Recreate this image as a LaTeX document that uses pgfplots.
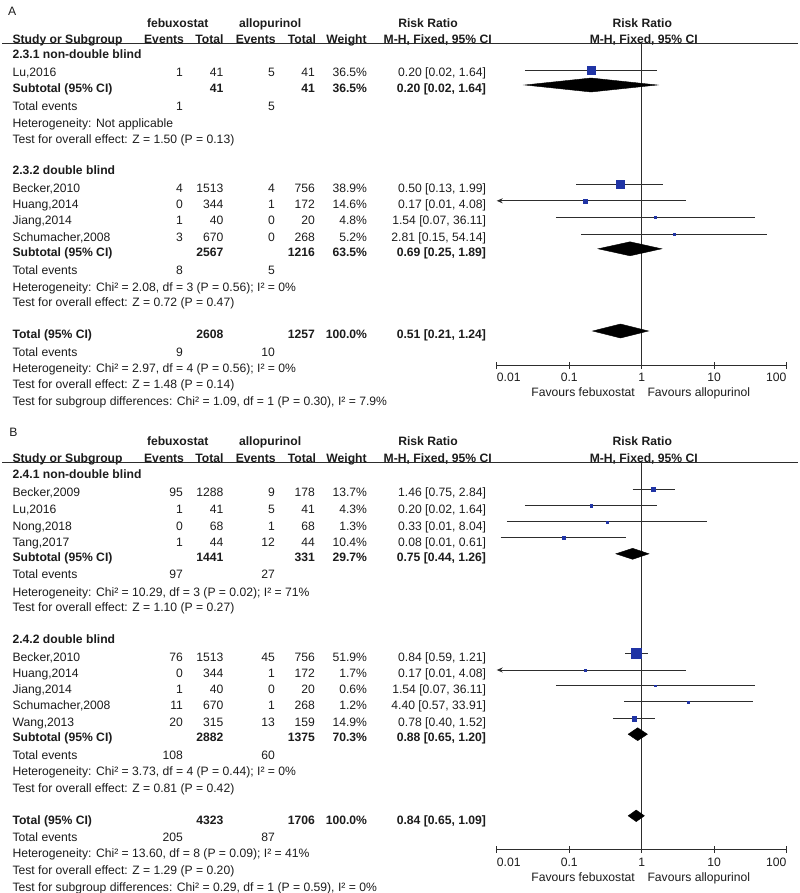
\documentclass[border=0pt]{standalone}
\usepackage{pgfplots}
\pgfplotsset{compat=1.18}
\usepackage{pgfplotstable}
\usetikzlibrary{arrows.meta}
\usepackage{fontspec}
\setmainfont{Liberation Sans}
\definecolor{txtcol}{RGB}{28,28,28}
\definecolor{linecol}{RGB}{45,45,45}
\definecolor{sqblue}{RGB}{32,52,165}

\newcommand\Lt[3]{\node[anchor=base west] at (#1,#2+4.4) {#3};}
\newcommand\Rt[3]{\node[anchor=base east] at (#1,#2+4.4) {#3};}
\newcommand\Ct[3]{\node[anchor=base] at (#1,#2+4.4) {#3};}
% y, name, e1, t1, e2, t2, weight, rr
\newcommand\Study[8]{\Lt{12.5}{#1}{#2}\Rt{183}{#1}{#3}\Rt{223.5}{#1}{#4}\Rt{275}{#1}{#5}\Rt{315}{#1}{#6}\Rt{367}{#1}{#7}\Rt{486}{#1}{#8}}
% y, label, t1, t2, weight, rr (bold)
\newcommand\Sub[6]{\Lt{12.5}{#1}{\textbf{#2}}\Rt{223.5}{#1}{\textbf{#3}}\Rt{315}{#1}{\textbf{#4}}\Rt{367}{#1}{\textbf{#5}}\Rt{486}{#1}{\textbf{#6}}}
% y, e1, e2
\newcommand\Tev[3]{\Lt{12.5}{#1}{Total events}\Rt{183}{#1}{#2}\Rt{275}{#1}{#3}}
\newcommand\Header[1]{%
  \Lt{147}{#1+22.7}{\textbf{febuxostat}}
  \Lt{239}{#1+22.7}{\textbf{allopurinol}}
  \Lt{398.3}{#1+22.7}{\textbf{Risk Ratio}}
  \Ct{642.3}{#1+22.7}{\textbf{Risk Ratio}}
  \Lt{12.5}{#1+39.3}{\textbf{Study or Subgroup}}
  \Rt{184}{#1+39.3}{\textbf{Events}}
  \Rt{223.5}{#1+39.3}{\textbf{Total}}
  \Rt{275.7}{#1+39.3}{\textbf{Events}}
  \Rt{316}{#1+39.3}{\textbf{Total}}
  \Rt{366.7}{#1+39.3}{\textbf{Weight}}
  \Rt{491.7}{#1+39.3}{\textbf{M-H, Fixed, 95\% CI}}
  \Ct{643.8}{#1+39.3}{\textbf{M-H, Fixed, 95\% CI}}
  \draw[linecol, line width=0.9bp] (2,#1+43.6) -- (798,#1+43.6);
}

\begin{document}
\pgfplotstableread{
y rr s
-70 0.2 3.85
-184.2 0.4997 4.15
-200.8 0.167 2
-217.3 1.537 1.3
-234 2.806 1.3
}\studiesA
\pgfplotstableread{
y rr s
-489 1.46 2
-505.7 0.2 1.1
-521.7 0.333 1
-537.7 0.0833 1.65
-653 0.84 5.2
-670 0.167 1
-685.7 1.537 0.9
-701.7 4.40 1
-718.7 0.78 2.15
}\studiesB
\begin{tikzpicture}[font=\fontsize{12.2}{14}\selectfont]
\useasboundingbox (0,0) rectangle (800bp,-893bp);
\begin{scope}[x=1bp,y=-1bp, every node/.style={inner sep=0pt, outer sep=0pt, text=txtcol}]
% ---------------- Panel A ----------------
\Lt{8}{11}{A}
\Header{0}
\Lt{12.5}{54.3}{\textbf{2.3.1 non-double blind}}
\Study{71.7}{Lu,2016}{1}{41}{5}{41}{36.5\%}{0.20 [0.02, 1.64]}
\Sub{88.3}{Subtotal (95\% CI)}{41}{41}{36.5\%}{0.20 [0.02, 1.64]}
\Tev{106}{1}{5}
\Lt{12.5}{122.7}{Heterogeneity: Not applicable}
\Lt{12.5}{139.3}{Test for overall effect: Z = 1.50 (P = 0.13)}
\Lt{12.5}{170}{\textbf{2.3.2 double blind}}
\Study{187.7}{Becker,2010}{4}{1513}{4}{756}{38.9\%}{0.50 [0.13, 1.99]}
\Study{204}{Huang,2014}{0}{344}{1}{172}{14.6\%}{0.17 [0.01, 4.08]}
\Study{220.5}{Jiang,2014}{1}{40}{0}{20}{4.8\%}{1.54 [0.07, 36.11]}
\Study{236.7}{Schumacher,2008}{3}{670}{0}{268}{5.2\%}{2.81 [0.15, 54.14]}
\Sub{252.3}{Subtotal (95\% CI)}{2567}{1216}{63.5\%}{0.69 [0.25, 1.89]}
\Tev{270}{8}{5}
\Lt{12.5}{286.7}{Heterogeneity: Chi² = 2.08, df = 3 (P = 0.56); I² = 0\%}
\Lt{12.5}{302.3}{Test for overall effect: Z = 0.72 (P = 0.47)}
\Sub{334.3}{Total (95\% CI)}{2608}{1257}{100.0\%}{0.51 [0.21, 1.24]}
\Tev{352}{9}{10}
\Lt{12.5}{368.3}{Heterogeneity: Chi² = 2.97, df = 4 (P = 0.56); I² = 0\%}
\Lt{12.5}{384.3}{Test for overall effect: Z = 1.48 (P = 0.14)}
\Lt{12.5}{401}{Test for subgroup differences: Chi² = 1.09, df = 1 (P = 0.30), I² = 7.9\%}
% ---------------- Panel B ----------------
\Lt{9.3}{431.7}{B}
\Header{418.5}
\Lt{12.5}{474.3}{\textbf{2.4.1 non-double blind}}
\Study{491.7}{Becker,2009}{95}{1288}{9}{178}{13.7\%}{1.46 [0.75, 2.84]}
\Study{509}{Lu,2016}{1}{41}{5}{41}{4.3\%}{0.20 [0.02, 1.64]}
\Study{525.7}{Nong,2018}{0}{68}{1}{68}{1.3\%}{0.33 [0.01, 8.04]}
\Study{541.7}{Tang,2017}{1}{44}{12}{44}{10.4\%}{0.08 [0.01, 0.61]}
\Sub{557.3}{Subtotal (95\% CI)}{1441}{331}{29.7\%}{0.75 [0.44, 1.26]}
\Tev{574.3}{97}{27}
\Lt{12.5}{591.7}{Heterogeneity: Chi² = 10.29, df = 3 (P = 0.02); I² = 71\%}
\Lt{12.5}{607.3}{Test for overall effect: Z = 1.10 (P = 0.27)}
\Lt{12.5}{639}{\textbf{2.4.2 double blind}}
\Study{656.7}{Becker,2010}{76}{1513}{45}{756}{51.9\%}{0.84 [0.59, 1.21]}
\Study{673.3}{Huang,2014}{0}{344}{1}{172}{1.7\%}{0.17 [0.01, 4.08]}
\Study{689.3}{Jiang,2014}{1}{40}{0}{20}{0.6\%}{1.54 [0.07, 36.11]}
\Study{705}{Schumacher,2008}{11}{670}{1}{268}{1.2\%}{4.40 [0.57, 33.91]}
\Study{721.7}{Wang,2013}{20}{315}{13}{159}{14.9\%}{0.78 [0.40, 1.52]}
\Sub{737.3}{Subtotal (95\% CI)}{2882}{1375}{70.3\%}{0.88 [0.65, 1.20]}
\Tev{755}{108}{60}
\Lt{12.5}{771.5}{Heterogeneity: Chi² = 3.73, df = 4 (P = 0.44); I² = 0\%}
\Lt{12.5}{788.3}{Test for overall effect: Z = 0.81 (P = 0.42)}
\Sub{820}{Total (95\% CI)}{4323}{1706}{100.0\%}{0.84 [0.65, 1.09]}
\Tev{836.7}{205}{87}
\Lt{12.5}{853.3}{Heterogeneity: Chi² = 13.60, df = 8 (P = 0.09); I² = 41\%}
\Lt{12.5}{870}{Test for overall effect: Z = 1.29 (P = 0.20)}
\Lt{12.5}{886.7}{Test for subgroup differences: Chi² = 0.29, df = 1 (P = 0.59), I² = 0\%}
\end{scope}

% ---------------- Forest A ----------------
\begin{axis}[at={(496.7bp,-365bp)}, anchor=south west,
  scale only axis, width=290bp, height=321.4bp,
  xmode=log, xmin=0.01, xmax=100, ymin=-365, ymax=-43.6,
  axis y line=none, axis x line*=bottom,
  xtick={0.01,0.1,1,10,100}, xticklabels={,,,,}, xminorticks=false,
  major tick length=7bp, tick align=center,
  axis line style={draw=linecol, line width=0.9bp},
  major tick style={draw=linecol, line width=0.9bp},
  clip=false]
\addplot[linecol, line width=0.9bp] coordinates {(1,-43.6) (1,-365)};
\addplot[linecol, line width=0.9bp, unbounded coords=jump] coordinates {
 (0.0244,-70) (1.64,-70) (nan,nan)
 (0.1253,-184.2) (1.993,-184.2) (nan,nan)
 (0.0654,-217.3) (36.11,-217.3) (nan,nan)
 (0.1455,-234) (54.14,-234)};
\addplot[linecol, line width=0.9bp, -{Stealth[length=6bp,width=5bp]}] coordinates {(4.08,-200.8) (0.01,-200.8)};
\addplot[scatter, only marks, mark=square*,
  scatter/use mapped color={draw=sqblue, fill=sqblue},
  visualization depends on={\thisrow{s} \as \msz},
  scatter/@pre marker code/.append style={/tikz/mark size=\msz}]
  table[x=rr, y=y] {\studiesA};
\addplot[fill=black, draw=black] coordinates {(0.0244,-85) (0.2,-78) (1.64,-85) (0.2,-92)} -- cycle;
\addplot[fill=black, draw=black] coordinates {(0.25,-248.8) (0.69,-241.8) (1.89,-248.8) (0.69,-255.8)} -- cycle;
\addplot[fill=black, draw=black] coordinates {(0.21,-331) (0.51,-324) (1.24,-331) (0.51,-338)} -- cycle;
\node[anchor=base west, inner sep=0pt, text=txtcol] at (axis cs:0.01,-381.1) {0.01};
\node[anchor=base, inner sep=0pt, text=txtcol] at (axis cs:0.1,-381.1) {0.1};
\node[anchor=base, inner sep=0pt, text=txtcol] at (axis cs:1,-381.1) {1};
\node[anchor=base, inner sep=0pt, text=txtcol] at (axis cs:10,-381.1) {10};
\node[anchor=base east, inner sep=0pt, text=txtcol] at (axis cs:100,-381.1) {100};
\node[anchor=base east, inner sep=0pt, xshift=-6.7bp, text=txtcol] at (axis cs:1,-396.1) {Favours febuxostat};
\node[anchor=base west, inner sep=0pt, xshift=5.6bp, text=txtcol] at (axis cs:1,-396.1) {Favours allopurinol};
\end{axis}

% ---------------- Forest B ----------------
\begin{axis}[at={(496.7bp,-849bp)}, anchor=south west,
  scale only axis, width=290bp, height=386.9bp,
  xmode=log, xmin=0.01, xmax=100, ymin=-849, ymax=-462.1,
  axis y line=none, axis x line*=bottom,
  xtick={0.01,0.1,1,10,100}, xticklabels={,,,,}, xminorticks=false,
  major tick length=7bp, tick align=center,
  axis line style={draw=linecol, line width=0.9bp},
  major tick style={draw=linecol, line width=0.9bp},
  clip=false]
\addplot[linecol, line width=0.9bp] coordinates {(1,-462.1) (1,-849)};
\addplot[linecol, line width=0.9bp, unbounded coords=jump] coordinates {
 (0.75,-489) (2.84,-489) (nan,nan)
 (0.0244,-505.7) (1.64,-505.7) (nan,nan)
 (0.0138,-521.7) (8.04,-521.7) (nan,nan)
 (0.0113,-537.7) (0.614,-537.7) (nan,nan)
 (0.59,-653) (1.21,-653) (nan,nan)
 (0.0654,-685.7) (36.11,-685.7) (nan,nan)
 (0.57,-701.7) (33.91,-701.7) (nan,nan)
 (0.40,-718.7) (1.52,-718.7)};
\addplot[linecol, line width=0.9bp, -{Stealth[length=6bp,width=5bp]}] coordinates {(4.08,-670) (0.01,-670)};
\addplot[scatter, only marks, mark=square*,
  scatter/use mapped color={draw=sqblue, fill=sqblue},
  visualization depends on={\thisrow{s} \as \msz},
  scatter/@pre marker code/.append style={/tikz/mark size=\msz}]
  table[x=rr, y=y] {\studiesB};
\addplot[fill=black, draw=black] coordinates {(0.44,-553.8) (0.75,-548.3) (1.26,-553.8) (0.75,-559.3)} -- cycle;
\addplot[fill=black, draw=black] coordinates {(0.65,-734.2) (0.88,-727.7) (1.20,-734.2) (0.88,-740.7)} -- cycle;
\addplot[fill=black, draw=black] coordinates {(0.65,-815.8) (0.84,-810) (1.09,-815.8) (0.84,-821.6)} -- cycle;
\node[anchor=base west, inner sep=0pt, text=txtcol] at (axis cs:0.01,-866.1) {0.01};
\node[anchor=base, inner sep=0pt, text=txtcol] at (axis cs:0.1,-866.1) {0.1};
\node[anchor=base, inner sep=0pt, text=txtcol] at (axis cs:1,-866.1) {1};
\node[anchor=base, inner sep=0pt, text=txtcol] at (axis cs:10,-866.1) {10};
\node[anchor=base east, inner sep=0pt, text=txtcol] at (axis cs:100,-866.1) {100};
\node[anchor=base east, inner sep=0pt, xshift=-6.7bp, text=txtcol] at (axis cs:1,-881.1) {Favours febuxostat};
\node[anchor=base west, inner sep=0pt, xshift=5.6bp, text=txtcol] at (axis cs:1,-881.1) {Favours allopurinol};
\end{axis}
\end{tikzpicture}
\end{document}
